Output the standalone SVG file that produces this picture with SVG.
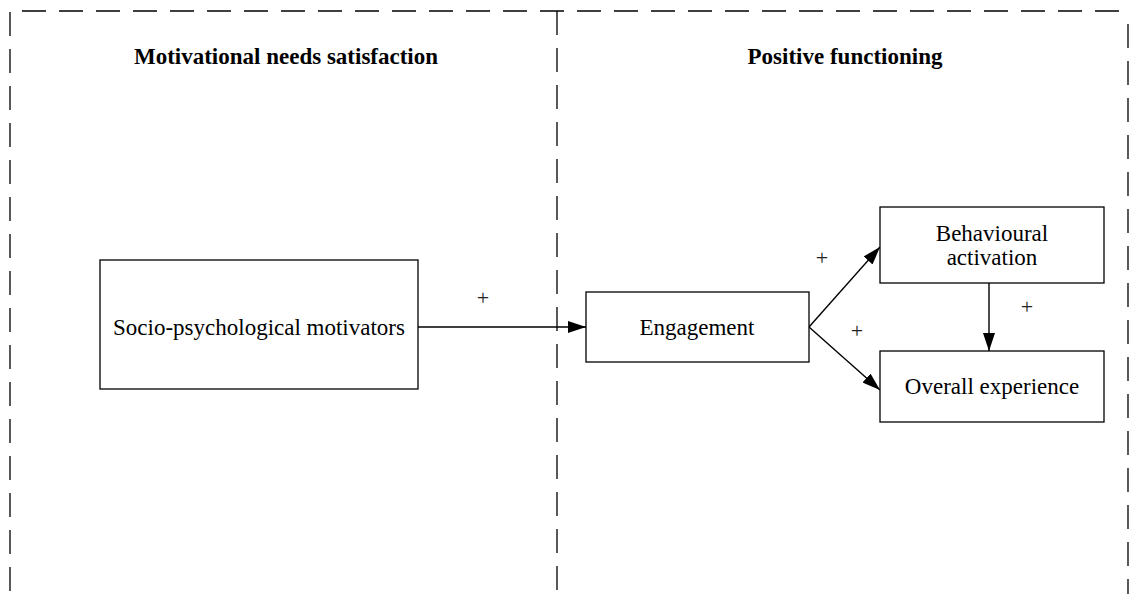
<svg xmlns="http://www.w3.org/2000/svg" width="1132" height="594" viewBox="0 0 1132 594">
  <style>
    .frame { fill: none; stroke: #000; stroke-width: 1.3; stroke-dasharray: 24 13; }
    .box { fill: #fff; stroke: #000; stroke-width: 1.3; }
    .label { font-family: "Liberation Serif", "Times New Roman", serif; font-size: 23px; fill: #000; text-anchor: middle; }
    .head { font-family: "Liberation Serif", "Times New Roman", serif; font-size: 23px; font-weight: bold; fill: #000; text-anchor: middle; }
    .plus { font-family: "Liberation Serif", "Times New Roman", serif; font-size: 22px; fill: #222; text-anchor: middle; }
    .edge { fill: none; stroke: #000; stroke-width: 1.4; }
  </style>
  <defs>
    <marker id="arrow" viewBox="0 0 18 12" refX="18" refY="6" markerWidth="18" markerHeight="12" markerUnits="userSpaceOnUse" orient="auto">
      <path d="M0,0 L18,6 L0,12 Z" fill="#000"/>
    </marker>
  </defs>
  <rect width="1132" height="594" fill="#fff"/>

  <!-- dashed panel frame -->
  <g id="frame">
    <line class="frame" x1="22" y1="11" x2="1132" y2="11"/>
    <line class="frame" x1="10" y1="12" x2="10" y2="594"/>
    <line class="frame" x1="557" y1="11" x2="557" y2="594"/>
    <line class="frame" x1="1128" y1="24" x2="1128" y2="594"/>
  </g>

  <g id="headings">
    <text class="head" x="286" y="64">Motivational needs satisfaction</text>
    <text class="head" x="845" y="64">Positive functioning</text>
  </g>

  <g id="connectors">
    <line class="edge" x1="418" y1="327" x2="586" y2="327" marker-end="url(#arrow)"/>
    <line class="edge" x1="809" y1="327" x2="880" y2="247" marker-end="url(#arrow)"/>
    <line class="edge" x1="809" y1="327" x2="880" y2="390" marker-end="url(#arrow)"/>
    <line class="edge" x1="989" y1="283" x2="989" y2="351" marker-end="url(#arrow)"/>
    <text class="plus" x="483" y="305">+</text>
    <text class="plus" x="822" y="265">+</text>
    <text class="plus" x="857" y="338">+</text>
    <text class="plus" x="1027" y="314">+</text>
  </g>

  <g id="socio">
    <rect class="box" x="100" y="260" width="318" height="129"/>
    <text class="label" x="259" y="335">Socio-psychological motivators</text>
  </g>

  <g id="engagement">
    <rect class="box" x="586" y="292" width="223" height="70"/>
    <text class="label" x="697" y="335">Engagement</text>
  </g>

  <g id="behavioural">
    <rect class="box" x="880" y="207" width="224" height="76"/>
    <text class="label" x="992" y="241">Behavioural</text>
    <text class="label" x="992" y="265">activation</text>
  </g>

  <g id="overall">
    <rect class="box" x="880" y="351" width="224" height="71"/>
    <text class="label" x="992" y="394">Overall experience</text>
  </g>
</svg>
